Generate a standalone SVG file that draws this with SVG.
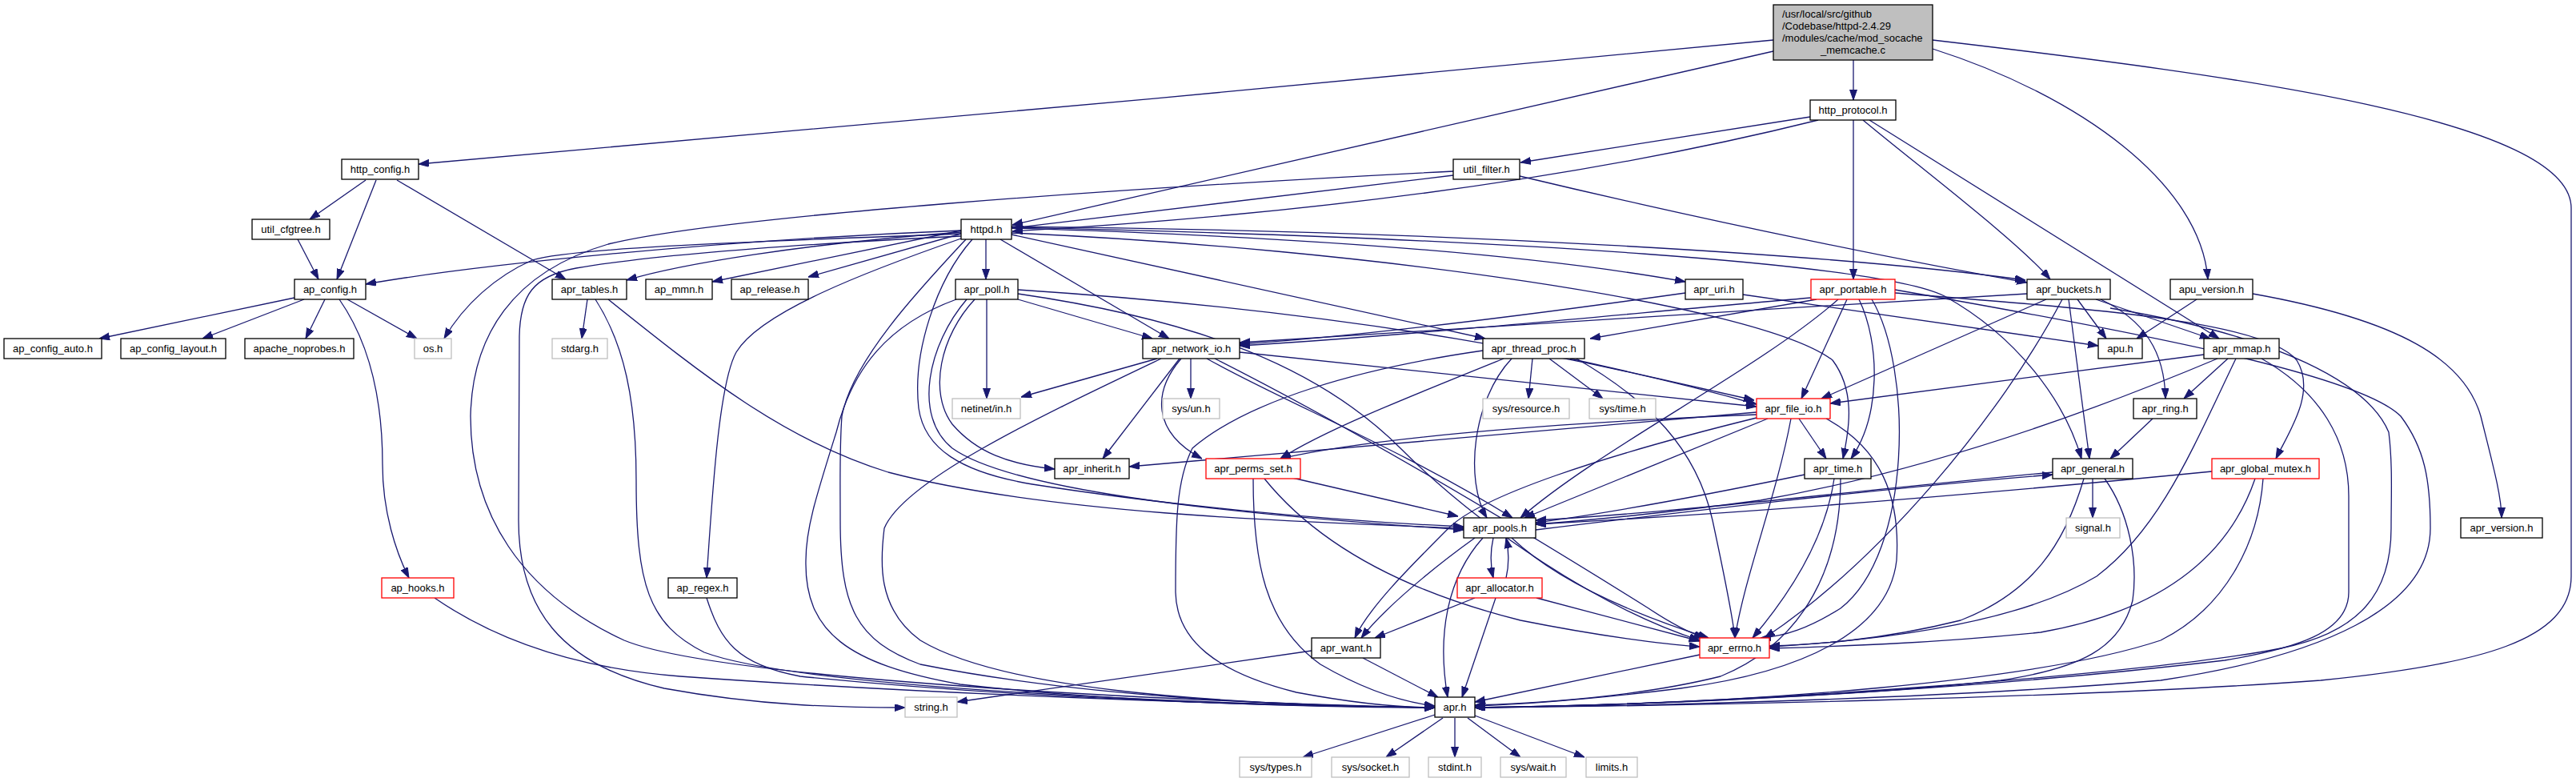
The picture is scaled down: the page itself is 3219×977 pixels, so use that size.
<svg xmlns="http://www.w3.org/2000/svg" width="3219" height="977" viewBox="0 0 3219 977">
<style>
rect{fill:#fff;stroke-width:1.3}
.n rect{stroke:#000}
.r rect{stroke:#ff0000}
.g rect{stroke:#bfbfbf}
.m rect{fill:#bfbfbf;stroke:#000}
text{font-family:"Liberation Sans",Arial,sans-serif;font-size:13px;fill:#000;text-anchor:middle}
#edges path{fill:none;stroke:#191970;stroke-width:1.3;marker-end:url(#a)}
</style>
<defs>
<marker id="a" markerWidth="13" markerHeight="10" refX="13" refY="4.5" orient="auto" markerUnits="userSpaceOnUse"><path d="M0,0 L13,4.5 L0,9 z" fill="#191970" stroke="#191970" stroke-width="1"/></marker>
</defs>
<rect x="0" y="0" width="3219" height="977" style="fill:#fff;stroke:none"/>
<g id="edges">
<path d="M2216,50 C1700,100 1000,165 523,205"/>
<path d="M2216,64 L1265,281"/>
<path d="M2316,75 L2316,125"/>
<path d="M2415,61 C2600,120 2750,230 2759,349"/>
<path d="M2415,50 C2800,95 3213,150 3213,260 L3213,720 C3213,800 3100,830 2900,850 C2600,872 2100,882 1843,884"/>
<path d="M2262,146 L1900,203"/>
<path d="M2272,150 Q1850,255 1265,289"/>
<path d="M2316,150 L2316,349"/>
<path d="M2328,150 C2400,210 2520,300 2562,349"/>
<path d="M2336,150 L2773,423"/>
<path d="M457,225 L387,274"/>
<path d="M470,225 L421,349"/>
<path d="M496,225 L707,349"/>
<path d="M372,299 L398,349"/>
<path d="M1816,219 L1265,285"/>
<path d="M1899,220 C2150,280 2400,330 2533,353"/>
<path d="M1816,214 C1400,235 900,270 760,305 C640,340 590,420 588,520 C588,640 650,740 780,800 C900,850 1500,878 1793,884"/>
<path d="M1201,288 C900,300 600,330 457,355"/>
<path d="M1201,290 C1000,305 850,330 783,350"/>
<path d="M1201,292 C1000,300 720,308 665,325 C620,345 580,380 555,423"/>
<path d="M1201,295 C1000,305 820,318 720,335 C665,345 650,370 649,420 L648,650 C648,760 700,830 830,860 C950,882 1050,884 1131,884"/>
<path d="M1207,299 C1150,360 1065,450 1052,520 C1049,560 1050,600 1050,650 C1050,760 1070,800 1150,830 C1350,870 1600,882 1793,884"/>
<path d="M1215,299 C1170,350 1140,440 1148,510 C1155,560 1200,590 1290,605 C1450,630 1650,650 1829,658"/>
<path d="M1201,288 L890,352"/>
<path d="M1201,292 L1010,346"/>
<path d="M1201,298 C1080,340 950,390 920,440 C898,480 890,620 883,722"/>
<path d="M1232,299 L1232,349"/>
<path d="M1264,285 C1600,295 1900,315 2106,352"/>
<path d="M1250,299 L1461,423"/>
<path d="M1264,293 L1856,423"/>
<path d="M1264,283 C1800,288 2300,318 2531,350"/>
<path d="M1264,291 C1700,310 2200,380 2290,450 C2320,490 2310,540 2303,573"/>
<path d="M1264,284 C1900,298 2350,330 2430,370 C2520,420 2580,500 2601,573"/>
<path d="M368,372 L124,423"/>
<path d="M380,374 L253,423"/>
<path d="M406,374 L382,423"/>
<path d="M434,374 L521,423"/>
<path d="M424,374 C470,440 478,520 478,580 C478,640 495,690 511,722"/>
<path d="M734,374 L727,423"/>
<path d="M744,374 C780,430 795,500 795,600 C795,730 810,780 880,815 C1000,860 1500,880 1793,884"/>
<path d="M760,374 C880,470 980,550 1110,590 C1300,640 1600,652 1829,660"/>
<path d="M543,747 C620,800 720,835 850,845 C1200,870 1600,882 1793,884"/>
<path d="M883,747 C900,800 920,830 1000,845 C1300,875 1600,882 1793,884"/>
<path d="M1233,374 L1233,498"/>
<path d="M1272,374 L1440,423"/>
<path d="M1272,362 C1700,390 2000,450 2195,505"/>
<path d="M1272,367 C1500,400 1650,460 1750,560 C1850,660 2000,760 2124,800"/>
<path d="M1218,374 C1175,420 1160,490 1190,530 C1220,565 1260,580 1318,586"/>
<path d="M1208,374 C1160,430 1140,520 1190,560 C1260,610 1500,640 1829,662"/>
<path d="M1195,374 C1110,405 1065,460 1045,540 C1020,620 1007,660 1007,700 C1005,790 1060,830 1200,855 C1400,878 1650,884 1793,884"/>
<path d="M1446,448 L1276,496"/>
<path d="M1488,448 L1488,498"/>
<path d="M1474,448 L1378,573"/>
<path d="M1476,448 C1440,490 1440,540 1502,573"/>
<path d="M1451,448 C1300,520 1130,600 1105,660 C1100,700 1095,760 1150,800 C1250,860 1500,880 1793,884"/>
<path d="M1508,448 C1600,500 1750,560 1890,647"/>
<path d="M1518,448 C1700,540 1900,660 2060,760 C2090,780 2110,790 2130,797"/>
<path d="M1549,440 L2195,508"/>
<path d="M2106,366 C1900,395 1700,420 1549,430"/>
<path d="M2178,368 L2622,432"/>
<path d="M2263,372 C2000,395 1750,420 1549,432"/>
<path d="M2270,374 L1987,423"/>
<path d="M2308,374 L2251,498"/>
<path d="M2323,374 C2350,430 2350,520 2313,573"/>
<path d="M2297,374 C2200,460 2000,560 1900,647"/>
<path d="M2339,374 C2390,460 2390,690 2300,760 C2260,785 2230,795 2200,797"/>
<path d="M2368,362 C2700,420 2950,470 3000,520 C3030,560 3037,600 3037,660 C3037,760 2900,820 2700,850 C2400,875 2000,883 1843,884"/>
<path d="M2368,366 C2600,385 2830,400 2870,450 C2895,490 2860,540 2844,573"/>
<path d="M2596,374 L2632,423"/>
<path d="M2619,374 L2762,423"/>
<path d="M2625,374 C2680,400 2705,440 2706,498"/>
<path d="M2585,374 L2611,573"/>
<path d="M2557,374 L2276,498"/>
<path d="M2533,367 C2200,385 1800,415 1549,428"/>
<path d="M2577,374 C2500,520 2350,700 2205,797"/>
<path d="M2637,385 C2850,420 2960,480 2985,540 C2990,580 2988,620 2988,660 C2988,740 2950,790 2850,810 C2700,840 2200,880 1843,884"/>
<path d="M2745,374 L2670,423"/>
<path d="M2815,367 C3000,400 3080,450 3100,520 C3115,580 3126,620 3126,647"/>
<path d="M1915,448 L1910,498"/>
<path d="M1936,448 L2003,498"/>
<path d="M1962,448 L2192,500"/>
<path d="M1879,448 C1750,500 1650,540 1600,573"/>
<path d="M1889,448 C1840,500 1830,600 1858,647"/>
<path d="M1970,448 C2060,500 2120,560 2140,650 C2155,720 2165,770 2168,797"/>
<path d="M1853,438 C1700,460 1560,500 1490,560 C1470,600 1469,650 1469,740 C1470,800 1520,840 1620,865 C1700,880 1760,884 1793,884"/>
<path d="M2784,448 L2729,498"/>
<path d="M2754,443 L2287,504"/>
<path d="M2771,448 C2600,520 2400,590 2200,625 C2050,645 1960,652 1919,655"/>
<path d="M2794,448 C2740,560 2700,660 2620,720 C2520,780 2350,800 2211,808"/>
<path d="M2826,448 C2900,490 2935,550 2935,620 L2935,740 C2935,790 2870,810 2780,825 C2400,870 2000,882 1843,884"/>
<path d="M2195,515 L1411,583"/>
<path d="M2195,518 C1900,530 1700,550 1600,573"/>
<path d="M2248,523 L2282,573"/>
<path d="M2209,523 L1905,647"/>
<path d="M2195,522 C2000,570 1850,620 1810,660 C1760,710 1710,760 1693,797"/>
<path d="M2238,523 C2220,620 2180,720 2168,797"/>
<path d="M2282,523 C2350,560 2375,620 2370,700 C2360,790 2250,840 2100,860 C1980,875 1900,880 1843,882"/>
<path d="M1615,597 L1822,645"/>
<path d="M1580,598 C1630,660 1720,730 1900,775 C2000,795 2080,805 2124,808"/>
<path d="M1566,598 C1566,700 1580,780 1650,830 C1710,865 1760,878 1793,882"/>
<path d="M2255,593 C2100,625 1980,645 1919,653"/>
<path d="M2292,598 C2280,680 2230,750 2190,797"/>
<path d="M2300,598 C2300,700 2260,800 2150,845 C2050,870 1930,878 1843,881"/>
<path d="M2615,598 L2615,647"/>
<path d="M2565,590 C2300,615 2100,640 1919,650"/>
<path d="M2604,598 C2580,680 2540,740 2450,775 C2350,800 2260,806 2211,807"/>
<path d="M2630,598 C2660,640 2672,700 2665,750 C2650,810 2600,835 2500,850 C2300,872 2000,882 1843,884"/>
<path d="M2764,589 C2500,615 2200,640 1919,655"/>
<path d="M2818,598 C2790,680 2720,760 2550,790 C2400,805 2280,808 2211,810"/>
<path d="M2828,598 C2822,680 2780,760 2700,800 C2550,850 2200,880 1843,884"/>
<path d="M2690,523 L2637,573"/>
<path d="M1919,662 C2100,640 2350,610 2565,593"/>
<path d="M1866,672 C1862,690 1862,705 1866,722"/>
<path d="M1843,672 C1790,710 1730,760 1701,797"/>
<path d="M1889,672 C1950,730 2050,770 2135,797"/>
<path d="M1853,672 C1810,720 1795,790 1809,871"/>
<path d="M1882,722 C1886,705 1886,690 1882,672"/>
<path d="M1843,747 L1718,797"/>
<path d="M1920,747 L2124,801"/>
<path d="M1869,747 L1827,871"/>
<path d="M1639,813 L1196,877"/>
<path d="M1703,822 L1797,871"/>
<path d="M2124,818 L1843,877"/>
<path d="M1793,893 L1628,946"/>
<path d="M1803,897 L1732,946"/>
<path d="M1818,897 L1818,946"/>
<path d="M1834,897 L1900,946"/>
<path d="M1843,894 L1980,946"/>
</g>
<g id="main" class="m"><rect x="2216" y="6" width="199" height="69"/>
<text x="2227" y="22" style="text-anchor:start">/usr/local/src/github</text>
<text x="2227" y="37" style="text-anchor:start">/Codebase/httpd-2.4.29</text>
<text x="2227" y="52" style="text-anchor:start">/modules/cache/mod_socache</text>
<text x="2315.5" y="67">_memcache.c</text></g>
<g id="http_protocol" class="n"><rect x="2262" y="125" width="107" height="25"/><text x="2315.5" y="142">http_protocol.h</text></g>
<g id="http_config" class="n"><rect x="427" y="199" width="96" height="25"/><text x="475" y="216">http_config.h</text></g>
<g id="util_filter" class="n"><rect x="1816" y="199" width="83" height="25"/><text x="1857.5" y="216">util_filter.h</text></g>
<g id="util_cfgtree" class="n"><rect x="315" y="274" width="97" height="25"/><text x="363.5" y="291">util_cfgtree.h</text></g>
<g id="httpd" class="n"><rect x="1201" y="274" width="63" height="25"/><text x="1232.5" y="291">httpd.h</text></g>
<g id="ap_config" class="n"><rect x="368" y="349" width="89" height="25"/><text x="412.5" y="366">ap_config.h</text></g>
<g id="apr_tables" class="n"><rect x="690" y="349" width="93" height="25"/><text x="736.5" y="366">apr_tables.h</text></g>
<g id="ap_mmn" class="n"><rect x="807" y="349" width="83" height="25"/><text x="848.5" y="366">ap_mmn.h</text></g>
<g id="ap_release" class="n"><rect x="914" y="349" width="96" height="25"/><text x="962" y="366">ap_release.h</text></g>
<g id="apr_poll" class="n"><rect x="1194" y="349" width="78" height="25"/><text x="1233" y="366">apr_poll.h</text></g>
<g id="apr_uri" class="n"><rect x="2106" y="349" width="72" height="25"/><text x="2142" y="366">apr_uri.h</text></g>
<g id="apr_portable" class="r"><rect x="2263" y="349" width="105" height="25"/><text x="2315.5" y="366">apr_portable.h</text></g>
<g id="apr_buckets" class="n"><rect x="2533" y="349" width="104" height="25"/><text x="2585" y="366">apr_buckets.h</text></g>
<g id="apu_version" class="n"><rect x="2712" y="349" width="103" height="25"/><text x="2763.5" y="366">apu_version.h</text></g>
<g id="ap_config_auto" class="n"><rect x="5" y="423" width="122" height="25"/><text x="66" y="440">ap_config_auto.h</text></g>
<g id="ap_config_layout" class="n"><rect x="151" y="423" width="131" height="25"/><text x="216.5" y="440">ap_config_layout.h</text></g>
<g id="apache_noprobes" class="n"><rect x="306" y="423" width="136" height="25"/><text x="374" y="440">apache_noprobes.h</text></g>
<g id="os" class="g"><rect x="518" y="423" width="46" height="25"/><text x="541" y="440">os.h</text></g>
<g id="stdarg" class="g"><rect x="690" y="423" width="69" height="25"/><text x="724.5" y="440">stdarg.h</text></g>
<g id="apr_network_io" class="n"><rect x="1428" y="423" width="121" height="25"/><text x="1488.5" y="440">apr_network_io.h</text></g>
<g id="apr_thread_proc" class="n"><rect x="1853" y="423" width="127" height="25"/><text x="1916.5" y="440">apr_thread_proc.h</text></g>
<g id="apu" class="n"><rect x="2622" y="423" width="55" height="25"/><text x="2649.5" y="440">apu.h</text></g>
<g id="apr_mmap" class="n"><rect x="2754" y="423" width="94" height="25"/><text x="2801" y="440">apr_mmap.h</text></g>
<g id="netinet_in" class="g"><rect x="1190" y="498" width="85" height="25"/><text x="1232.5" y="515">netinet/in.h</text></g>
<g id="sys_un" class="g"><rect x="1453" y="498" width="71" height="25"/><text x="1488.5" y="515">sys/un.h</text></g>
<g id="sys_resource" class="g"><rect x="1853" y="498" width="108" height="25"/><text x="1907" y="515">sys/resource.h</text></g>
<g id="sys_time" class="g"><rect x="1986" y="498" width="83" height="25"/><text x="2027.5" y="515">sys/time.h</text></g>
<g id="apr_file_io" class="r"><rect x="2195" y="498" width="92" height="25"/><text x="2241" y="515">apr_file_io.h</text></g>
<g id="apr_ring" class="n"><rect x="2666" y="498" width="79" height="25"/><text x="2705.5" y="515">apr_ring.h</text></g>
<g id="apr_inherit" class="n"><rect x="1318" y="573" width="93" height="25"/><text x="1364.5" y="590">apr_inherit.h</text></g>
<g id="apr_perms_set" class="r"><rect x="1507" y="573" width="118" height="25"/><text x="1566" y="590">apr_perms_set.h</text></g>
<g id="apr_time" class="n"><rect x="2255" y="573" width="83" height="25"/><text x="2296.5" y="590">apr_time.h</text></g>
<g id="apr_general" class="n"><rect x="2565" y="573" width="100" height="25"/><text x="2615" y="590">apr_general.h</text></g>
<g id="apr_global_mutex" class="r"><rect x="2764" y="573" width="134" height="25"/><text x="2831" y="590">apr_global_mutex.h</text></g>
<g id="apr_pools" class="n"><rect x="1829" y="647" width="90" height="25"/><text x="1874" y="664">apr_pools.h</text></g>
<g id="signal" class="g"><rect x="2582" y="647" width="67" height="25"/><text x="2615.5" y="664">signal.h</text></g>
<g id="apr_version" class="n"><rect x="3075" y="647" width="102" height="25"/><text x="3126" y="664">apr_version.h</text></g>
<g id="ap_hooks" class="r"><rect x="477" y="722" width="90" height="25"/><text x="522" y="739">ap_hooks.h</text></g>
<g id="ap_regex" class="n"><rect x="835" y="722" width="86" height="25"/><text x="878" y="739">ap_regex.h</text></g>
<g id="apr_allocator" class="r"><rect x="1821" y="722" width="106" height="25"/><text x="1874" y="739">apr_allocator.h</text></g>
<g id="apr_want" class="n"><rect x="1639" y="797" width="86" height="25"/><text x="1682" y="814">apr_want.h</text></g>
<g id="apr_errno" class="r"><rect x="2124" y="797" width="87" height="25"/><text x="2167.5" y="814">apr_errno.h</text></g>
<g id="string" class="g"><rect x="1131" y="871" width="65" height="25"/><text x="1163.5" y="888">string.h</text></g>
<g id="apr" class="n"><rect x="1793" y="871" width="50" height="25"/><text x="1818" y="888">apr.h</text></g>
<g id="sys_types" class="g"><rect x="1549" y="946" width="90" height="25"/><text x="1594" y="963">sys/types.h</text></g>
<g id="sys_socket" class="g"><rect x="1664" y="946" width="97" height="25"/><text x="1712.5" y="963">sys/socket.h</text></g>
<g id="stdint" class="g"><rect x="1785" y="946" width="66" height="25"/><text x="1818" y="963">stdint.h</text></g>
<g id="sys_wait" class="g"><rect x="1875" y="946" width="82" height="25"/><text x="1916" y="963">sys/wait.h</text></g>
<g id="limits" class="g"><rect x="1982" y="946" width="64" height="25"/><text x="2014" y="963">limits.h</text></g>
</svg>
